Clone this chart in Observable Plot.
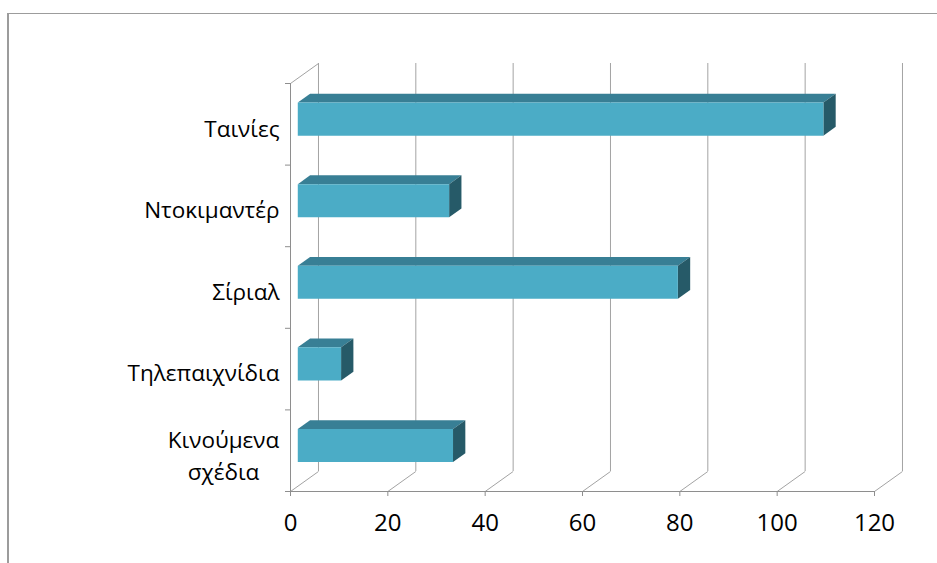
<!DOCTYPE html>
<html lang="el">
<head>
<meta charset="utf-8">
<script src="https://cdn.jsdelivr.net/npm/d3@7"></script>
<script src="https://cdn.jsdelivr.net/npm/@observablehq/plot@0.6"></script>
<style>
html,body{margin:0;padding:0;background:#fff;overflow:hidden;width:937px;height:563px}
#frame{position:absolute;left:7px;top:13px;right:0;bottom:0;border-left:2px solid #9c9c9c;border-top:1.5px solid #9c9c9c}
#chart{position:absolute;left:0;top:0}
</style>
</head>
<body>
<div id="frame"></div>
<div id="chart"></div>
<script>
const categories = ["Ταινίες", "Ντοκιμαντέρ", "Σίριαλ", "Τηλεπαιχνίδια", "Κινούμενα\nσχέδια"];
const values = [108, 31.1, 78.1, 8.9, 31.9];
const xTicks = [0, 20, 40, 60, 80, 100, 120];
const yTicks = [0, 1, 2, 3, 4, 5];

const faceColors = {front: "#4bacc6", top: "#387f95", side: "#265a68"};
const fontFamily = "'Open Sans', sans-serif";
const depthX = 5.75, depthY = 0.245;
const z0 = 0.26, z1 = 0.7, halfBar = 0.203;
const project = (x, y, z) => ({x: x + z * depthX, y: y + z * depthY});

const rows = categories.map((name, i) => ({name, value: values[i], center: categories.length - 0.5 - i}));

const faces = rows.flatMap((r, i) => {
  const lo = r.center - halfBar, hi = r.center + halfBar, v = r.value;
  const poly = (face, pts) => pts.map(([x, y, z]) => ({...project(x, y, z), id: `${i}-${face}`, face}));
  return [
    ...poly("top", [[0, hi, z0], [v, hi, z0], [v, hi, z1], [0, hi, z1]]),
    ...poly("side", [[v, lo, z0], [v, hi, z0], [v, hi, z1], [v, lo, z1]]),
    ...poly("front", [[0, lo, z0], [v, lo, z0], [v, hi, z0], [0, hi, z0]])
  ];
});

const floorLines = [
  ...xTicks.map(t => ({x1: t, y1: 0, x2: t + depthX, y2: depthY})),
  {x1: 0, y1: 5, x2: depthX, y2: 5 + depthY}
];

const wall = "#a3a3a3", axisColor = "#8e8e8e";
const single = rows.filter(r => !r.name.includes("\n"));
const wrapped = rows.filter(r => r.name.includes("\n"));

const chart = Plot.plot({
  width: 937,
  height: 563,
  marginLeft: 290,
  marginRight: 63,
  marginTop: 83,
  marginBottom: 72,
  style: {background: "transparent", fontFamily},
  x: {domain: [0, 120], range: [290, 874]},
  y: {domain: [0, 5], range: [491, 83]},
  marks: [
    Plot.ruleX(xTicks, {x: d => d + depthX, y1: depthY, y2: 5 + depthY, stroke: wall, strokeWidth: 1}),
    Plot.link(floorLines, {x1: "x1", y1: "y1", x2: "x2", y2: "y2", stroke: wall, strokeWidth: 1}),
    Plot.ruleX([0], {y1: 0, y2: 5, stroke: axisColor, strokeWidth: 1}),
    Plot.ruleY([0], {x1: 0, x2: 120, stroke: axisColor, strokeWidth: 1}),
    Plot.axisX({ticks: xTicks, tickSize: 5, tickPadding: 17, stroke: axisColor, fontSize: 24, fontFamily, label: null}),
    Plot.axisY({ticks: yTicks, tickSize: 5, tickFormat: () => "", stroke: axisColor, label: null}),
    Plot.line(faces, {x: "x", y: "y", z: "id", fill: d => faceColors[d.face], stroke: "none"}),
    Plot.text(single, {x: 0, y: "center", text: "name", textAnchor: "end", dx: -11, dy: 5, fontSize: 22.5, fontFamily, fill: "#000"}),
    Plot.text(wrapped, {x: 0, y: "center", text: "name", textAnchor: "middle", dx: -67, dy: 3, lineHeight: 1.42, fontSize: 22.5, fontFamily, fill: "#000"})
  ]
});
document.getElementById("chart").append(chart);
</script>
</body>
</html>
